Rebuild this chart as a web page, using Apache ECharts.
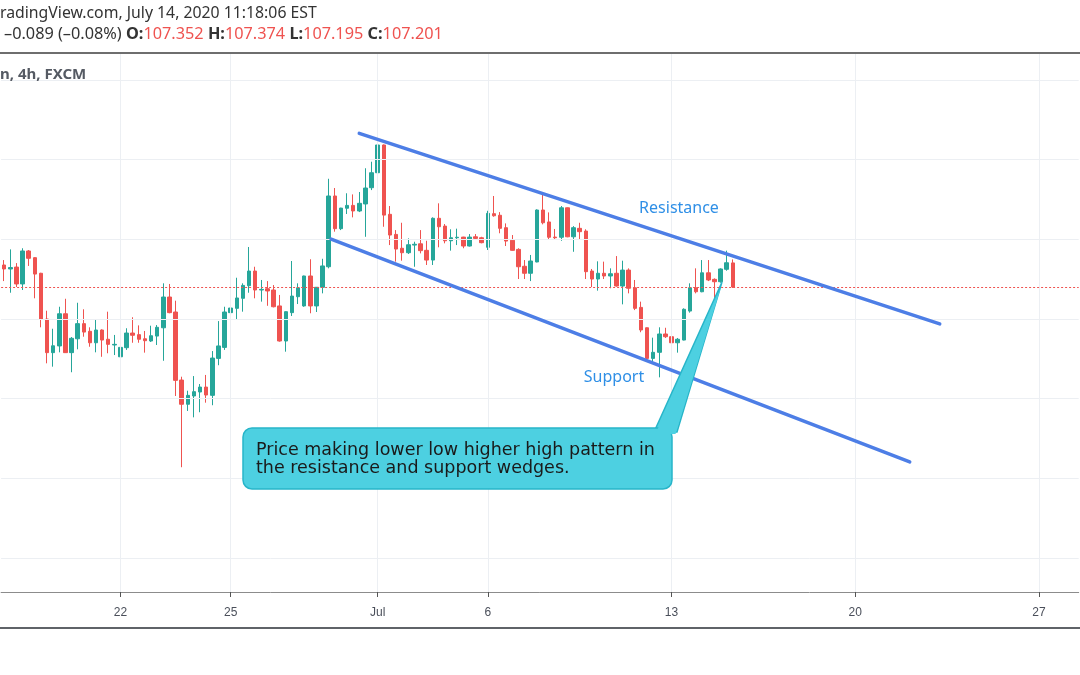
<!DOCTYPE html>
<html>
<head>
<meta charset="utf-8">
<script src="https://cdn.jsdelivr.net/npm/echarts@6/dist/echarts.min.js"></script>
<style>html,body{margin:0;padding:0;background:#fff;}#c{width:1080px;height:675px;}</style>
</head>
<body>
<div id="c"></div>
<script>
// ---- trading days (USDJPY 4h, FXCM) ----
const tradingDays = ['06-16','06-17','06-18','06-19','06-22','06-23','06-24','06-25','06-26','06-29','06-30',
  '07-01','07-02','07-03','07-06','07-07','07-08','07-09','07-10','07-13','07-14','07-15','07-16','07-17',
  '07-20','07-21','07-22','07-23','07-24','07-27','07-28'];
const sessionHours = ['17:00','21:00','01:00','05:00','09:00','13:00'];
const tickDays = ['06-22','06-25','07-01','07-06','07-13','07-20','07-27'];
const tickLabels = ['22','25','Jul','6','13','20','27'];
const gridPrices = [105.5,106.0,106.5,107.0,107.5,108.0,108.5];
const lastPrice = 107.201;

// ---- OHLC values ----
const opens = [107.339,107.314,107.326,107.220,107.427,107.385,107.287,107.000,106.789,106.831,
107.033,106.789,106.876,106.971,106.923,106.851,106.931,106.873,106.837,106.763,
106.820,106.912,106.902,106.876,106.862,106.893,106.945,107.138,107.044,106.617,
106.465,106.517,106.542,106.573,106.521,106.753,106.822,107.040,107.067,107.130,
107.209,107.301,107.182,107.190,107.182,107.082,106.862,107.040,107.140,107.082,
107.270,107.082,107.199,107.328,107.772,107.567,107.695,107.713,107.678,107.722,
107.824,107.918,108.092,107.657,107.531,107.444,107.416,107.464,107.472,107.431,
107.370,107.632,107.583,107.491,107.510,107.514,107.458,107.516,107.510,107.450,
107.661,107.651,107.573,107.494,107.437,107.331,107.287,107.358,107.684,107.609,
107.514,107.513,107.698,107.516,107.569,107.552,107.301,107.251,107.287,107.270,
107.287,107.207,107.307,107.196,107.073,106.945,106.753,106.791,106.906,106.889,
106.851,106.868,107.050,107.196,107.171,107.290,107.249,107.234,107.312,107.352];
const highs = [107.370,107.437,107.351,107.444,107.433,107.388,107.290,107.052,106.939,107.077,
107.127,106.887,107.102,107.061,106.948,107.000,106.935,107.046,106.900,106.900,
106.942,107.011,106.960,106.925,106.958,106.962,107.224,107.220,107.115,106.638,
106.550,106.642,106.592,106.649,106.799,106.987,107.077,107.144,107.259,107.224,
107.452,107.328,107.245,107.238,107.213,107.151,107.048,107.364,107.224,107.272,
107.375,107.201,107.378,107.880,107.822,107.698,107.789,107.782,107.797,107.946,
107.987,108.165,108.095,107.709,107.558,107.604,107.506,107.485,107.558,107.491,
107.638,107.726,107.596,107.563,107.567,107.516,107.533,107.533,107.516,107.679,
107.772,107.671,107.600,107.527,107.444,107.370,107.402,107.688,107.792,107.669,
107.565,107.709,107.700,107.583,107.604,107.563,107.314,107.362,107.360,107.318,
107.395,107.366,107.318,107.245,107.109,106.947,106.883,106.948,106.945,106.942,
106.881,107.067,107.224,107.318,107.370,107.370,107.255,107.318,107.429,107.374];
const lows = [107.238,107.165,107.201,107.182,107.333,107.130,106.948,106.722,106.701,106.791,
106.787,106.666,106.810,106.889,106.826,106.791,106.763,106.785,106.774,106.738,
106.806,106.851,106.851,106.789,106.856,106.837,106.738,107.036,106.517,106.070,
106.423,106.383,106.415,106.475,106.459,106.710,106.806,106.956,106.994,107.046,
107.165,107.130,107.109,107.083,107.073,106.858,106.795,107.019,107.094,107.077,
107.036,107.044,107.161,107.318,107.548,107.558,107.659,107.638,107.671,107.516,
107.809,107.876,107.579,107.464,107.360,107.366,107.408,107.328,107.412,107.339,
107.339,107.450,107.475,107.429,107.464,107.444,107.455,107.500,107.475,107.433,
107.642,107.538,107.458,107.429,107.251,107.251,107.238,107.356,107.594,107.496,
107.502,107.491,107.513,107.422,107.496,107.251,107.201,107.178,107.251,107.193,
107.203,107.092,107.161,107.056,106.917,106.743,106.722,106.634,106.881,106.848,
106.789,106.866,107.040,107.161,107.168,107.238,107.119,107.228,107.303,107.195];
const closes = [107.314,107.323,107.220,107.427,107.381,107.282,106.998,106.789,106.832,107.033,
106.789,106.879,106.971,106.918,106.851,106.931,106.868,106.841,106.841,106.822,
106.912,106.898,106.873,106.864,106.895,106.948,107.138,107.040,106.615,106.465,
106.521,106.544,106.573,106.523,106.755,106.831,107.044,107.069,107.132,107.211,
107.301,107.182,107.186,107.176,107.077,106.862,107.046,107.144,107.196,107.270,
107.082,107.199,107.333,107.772,107.567,107.696,107.713,107.678,107.726,107.822,
107.918,108.092,107.652,107.527,107.439,107.416,107.466,107.469,107.429,107.370,
107.632,107.579,107.491,107.510,107.513,107.458,107.514,107.506,107.479,107.663,
107.648,107.569,107.489,107.431,107.328,107.287,107.364,107.684,107.604,107.513,
107.510,107.698,107.516,107.573,107.548,107.297,107.251,107.287,107.270,107.284,
107.207,107.307,107.193,107.067,106.931,106.753,106.791,106.906,106.889,106.851,
106.873,107.061,107.196,107.171,107.290,107.245,107.234,107.314,107.353,107.201];

// ---- drawn trendlines: [bar index, price] ----
const resistanceLine = [[58.0, 108.165], [152.8, 106.969]];
const supportLine = [[53.4, 107.502], [147.9, 106.103]];

// ---- build categories ----
let allSlots = [];
tradingDays.forEach(d => sessionHours.forEach((h, k) => allSlots.push({day: d, first: k === 0, label: '2020-' + d + ' ' + h})));
const slots = allSlots.slice(5, 5 + 176);
const categories = slots.map(s => s.label);
const tickIndex = [];
const tickText = {};
slots.forEach((s, i) => {
  const t = tickDays.indexOf(s.day);
  if (s.first && t >= 0) { tickIndex.push(i); tickText[i] = tickLabels[t]; }
});
const isTick = (i) => tickText[i] !== undefined;
const ohlc = opens.map((o, i) => [o, closes[i], lows[i], highs[i]]);

const UP = '#26a69a', DOWN = '#ef5350';
const chart = echarts.init(document.getElementById('c'), null, {renderer: 'canvas'});
const noMarkSym = ['none', 'none'];
const FONT = '"Noto Sans", sans-serif';

chart.setOption({
  animation: false,
  backgroundColor: '#ffffff',
  grid: {left: 1.1, top: 54, width: 1077.6, height: 538, containLabel: false},
  xAxis: [{
    type: 'category', data: categories, boundaryGap: true,
    axisLine: {show: true, lineStyle: {color: '#8c8c8c', width: 1}},
    axisTick: {show: true, alignWithLabel: true, interval: (i) => isTick(i), length: 5, lineStyle: {color: '#555'}},
    axisLabel: {show: true, interval: (i) => isTick(i), formatter: (v, i) => tickText[i] || '',
      color: '#4a4f5a', fontSize: 12, margin: 15, fontFamily: 'Liberation Sans Narrow, Liberation Sans, sans-serif'},
    splitLine: {show: false}
  }, {
    type: 'value', min: -0.5, max: categories.length - 0.5, show: false, splitLine: {show: false}
  }],
  yAxis: {type: 'value', min: 105.287, max: 108.663, show: false, splitLine: {show: false}, scale: true},
  series: [{
    type: 'line', xAxisIndex: 1, data: [], z: 0, silent: true,
    markLine: {
      silent: true, symbol: noMarkSym, animation: false, label: {show: false},
      lineStyle: {color: '#eceff3', width: 1, type: 'solid'},
      data: gridPrices.map(p => ({yAxis: p})).concat(tickIndex.map(i => ({xAxis: i})))
    }
  }, {
    type: 'candlestick', xAxisIndex: 0, data: ohlc, barWidth: 4, z: 3,
    itemStyle: {color: UP, color0: DOWN, borderColor: UP, borderColor0: DOWN, borderWidth: 1},
    markLine: {
      silent: true, symbol: noMarkSym, animation: false, label: {show: false},
      lineStyle: {color: DOWN, width: 1, type: [2, 2]},
      data: [{yAxis: lastPrice}]
    }
  }, {
    type: 'line', xAxisIndex: 1, data: resistanceLine, symbol: 'none', z: 5, silent: true,
    lineStyle: {color: '#4d7ee6', width: 3.5, cap: 'round'}
  }, {
    type: 'line', xAxisIndex: 1, data: supportLine, symbol: 'none', z: 5, silent: true,
    lineStyle: {color: '#4d7ee6', width: 3.5, cap: 'round'}
  }],
  graphic: [
    {type: 'text', left: 0, top: 5, z: 10, style: {text: 'radingView.com, July 14, 2020 11:18:06 EST', fill: '#333333', font: '15.8px ' + FONT}},
    {type: 'text', left: 4, top: 26, z: 10, style: {
      text: '\u20130.089 (\u20130.08%) {b|O:}{r|107.352} {b|H:}{r|107.374} {b|L:}{r|107.195} {b|C:}{r|107.201}',
      fill: '#333333', font: '16.3px ' + FONT,
      rich: {b: {fontWeight: 'bold', fill: '#333333', fontSize: 16.3, fontFamily: 'Noto Sans'}, r: {fill: '#ef5350', fontSize: 16.3, fontFamily: 'Noto Sans'}}
    }},
    {type: 'rect', z: 10, shape: {x: 0, y: 52, width: 1080, height: 2}, style: {fill: '#6e6e6e'}},
    {type: 'text', left: 0, top: 67, z: 10, style: {text: 'n, 4h, FXCM', fill: '#555a63', font: 'bold 15px ' + FONT}},
    {type: 'rect', z: 10, shape: {x: 0, y: 627, width: 1080, height: 2}, style: {fill: '#5f6368'}},
    {type: 'text', x: 679, y: 208, z: 10, style: {text: 'Resistance', fill: '#2f8fe6', font: '16px ' + FONT, align: 'center', verticalAlign: 'middle'}},
    {type: 'text', x: 614, y: 377, z: 10, style: {text: 'Support', fill: '#2f8fe6', font: '16px ' + FONT, align: 'center', verticalAlign: 'middle'}},
    {type: 'polygon', z: 11, shape: {points: [[654, 432], [722, 282], [677, 432]]}, style: {fill: '#4dd0e1', stroke: '#27b5c9', lineWidth: 1.5}},
    {type: 'rect', z: 12, shape: {x: 243, y: 428, width: 429, height: 61, r: 9}, style: {fill: '#4dd0e1', stroke: '#27b5c9', lineWidth: 1.5}},
    {type: 'polygon', z: 13, shape: {points: [[655.5, 434], [721, 287], [675.5, 434]]}, style: {fill: '#4dd0e1'}},
    {type: 'text', left: 256, top: 441, z: 14, style: {text: 'Price making lower low higher high pattern in\nthe resistance and support wedges.', fill: '#1a1a1a', font: '17.5px "DejaVu Sans", sans-serif', lineHeight: 18}}
  ]
});
</script>
</body>
</html>
